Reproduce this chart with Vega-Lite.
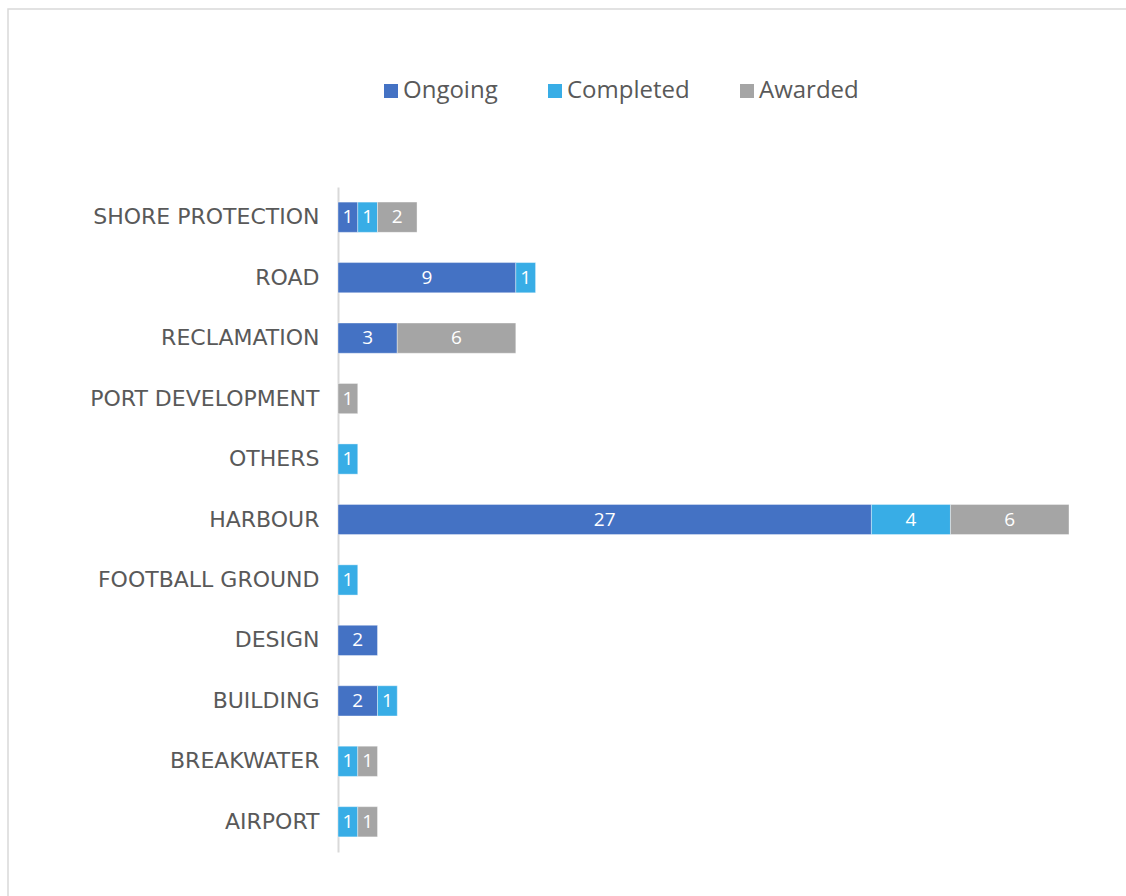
{
  "$schema": "https://vega.github.io/schema/vega-lite/v6.json",
  "width": 1130,
  "height": 900,
  "autosize": "none",
  "padding": {"left": 8, "top": 9, "right": 0, "bottom": 0},
  "background": "white",
  "config": {"view": {"stroke": "#d9d9d9", "strokeWidth": 1.5}},
  "data": {
    "values": [
      {"category": "SHORE PROTECTION", "status": "Ongoing", "count": 1},
      {"category": "SHORE PROTECTION", "status": "Completed", "count": 1},
      {"category": "SHORE PROTECTION", "status": "Awarded", "count": 2},
      {"category": "ROAD\u00a0", "status": "Ongoing", "count": 9},
      {"category": "ROAD\u00a0", "status": "Completed", "count": 1},
      {"category": "RECLAMATION", "status": "Ongoing", "count": 3},
      {"category": "RECLAMATION", "status": "Awarded", "count": 6},
      {"category": "PORT DEVELOPMENT", "status": "Awarded", "count": 1},
      {"category": "OTHERS", "status": "Completed", "count": 1},
      {"category": "HARBOUR", "status": "Ongoing", "count": 27},
      {"category": "HARBOUR", "status": "Completed", "count": 4},
      {"category": "HARBOUR", "status": "Awarded", "count": 6},
      {"category": "FOOTBALL GROUND", "status": "Completed", "count": 1},
      {"category": "DESIGN", "status": "Ongoing", "count": 2},
      {"category": "BUILDING", "status": "Ongoing", "count": 2},
      {"category": "BUILDING", "status": "Completed", "count": 1},
      {"category": "BREAKWATER", "status": "Completed", "count": 1},
      {"category": "BREAKWATER", "status": "Awarded", "count": 1},
      {"category": "AIRPORT", "status": "Completed", "count": 1},
      {"category": "AIRPORT", "status": "Awarded", "count": 1}
    ]
  },
  "transform": [
    {"stack": "count", "groupby": ["category"], "sort": [{"field": "status", "order": "descending"}], "as": ["x0", "x1"]},
    {"calculate": "(datum.x0 + datum.x1) / 2", "as": "mid"}
  ],
  "encoding": {
    "y": {
      "field": "category",
      "type": "nominal",
      "sort": "descending",
      "scale": {"range": [178, 843], "paddingInner": 0.5, "paddingOuter": 0.25},
      "axis": {
        "title": null,
        "offset": -330,
        "ticks": false,
        "grid": false,
        "labelPadding": 19,
        "labelLimit": 400,
        "labelFontSize": 22,
        "labelFont": "DejaVu Sans",
        "labelColor": "#595959",
        "domainColor": "#d9d9d9",
        "domainWidth": 2
      }
    }
  },
  "layer": [
    {
      "mark": {"type": "bar", "stroke": "white", "strokeWidth": 0.75, "strokeOpacity": 0.5},
      "encoding": {
        "x": {"field": "x0", "type": "quantitative", "scale": {"domain": [0, 37], "nice": false, "zero": true, "range": [330, 1061]}, "axis": null},
        "x2": {"field": "x1"},
        "color": {
          "field": "status",
          "type": "nominal",
          "scale": {"domain": ["Ongoing", "Completed", "Awarded"], "range": ["#4472C4", "#38ADE6", "#A5A5A5"]},
          "legend": {
            "title": null,
            "orient": "none",
            "legendX": 371,
            "legendY": 70,
            "direction": "horizontal",
            "symbolType": "square",
            "symbolSize": 196,
            "symbolStrokeWidth": 0,
            "labelFontSize": 24,
            "labelFont": "Open Sans",
            "labelColor": "#595959",
            "columnPadding": 45,
            "labelOffset": 0
          }
        }
      }
    },
    {
      "mark": {"type": "text", "color": "white", "fontSize": 19, "font": "Open Sans"},
      "encoding": {
        "x": {"field": "mid", "type": "quantitative", "axis": null},
        "text": {"field": "count", "type": "quantitative"}
      }
    }
  ]
}
